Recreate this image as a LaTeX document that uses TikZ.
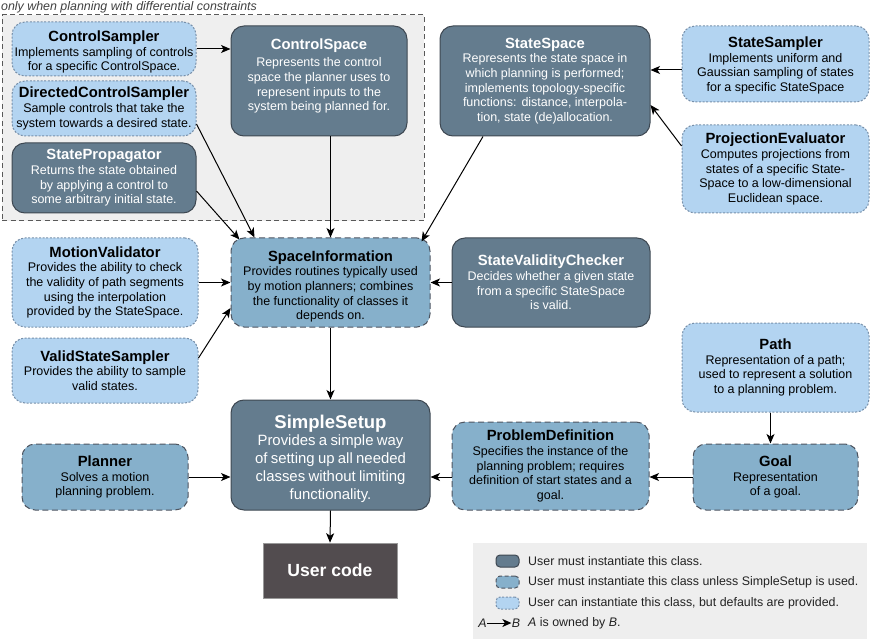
\documentclass[tikz,border=0pt]{standalone}
\usepackage{fontspec}
\setmainfont{Liberation Sans}
\usetikzlibrary{arrows.meta}

\definecolor{dkfill}{HTML}{647C8E}
\definecolor{dkline}{HTML}{3E4852}
\definecolor{mdfill}{HTML}{86B0CB}
\definecolor{mdline}{HTML}{4E5560}
\definecolor{ltfill}{HTML}{B3D4F1}
\definecolor{ltline}{HTML}{7890AA}
\definecolor{regionfill}{HTML}{EFEFEF}
\definecolor{legendfill}{HTML}{EEEEEE}
\definecolor{userfill}{HTML}{524C4F}
\definecolor{bodytext}{HTML}{222222}

% font sizes for class boxes
\newcommand\bodysize{\fontsize{12.5}{14.7}\selectfont}
\newcommand\titlesize{\fontsize{14.8}{16}\selectfont\bfseries}
\newcommand\bigbodysize{\fontsize{14.9}{17.7}\selectfont}
\newcommand\bigtitlesize{\fontsize{18.5}{20}\selectfont\bfseries}
% class box content: title, then description
\newcommand\cls[3][0pt]{{\titlesize #2\par}\vspace{#1}{\bodysize #3\par}}

\tikzset{
  box/.style 2 args={rounded corners=13pt, inner sep=0pt, text width=#1pt,
    minimum height=#2pt, align=center, line width=1pt},
  mustbox/.style={fill=dkfill, draw=dkline, text=white},
  setupbox/.style={fill=mdfill, draw=mdline, text=black,
    dash pattern=on 6pt off 3.5pt},
  defaultbox/.style={fill=ltfill, draw=ltline, text=black,
    dash pattern=on 2pt off 1.6pt},
  own/.style={-{Stealth[length=9.5pt,width=8pt,inset=2.5pt]}, line width=1pt, black},
  legendtext/.style={anchor=west, inner sep=0pt, text=bodytext,
    font=\fontsize{12.4}{14.6}\selectfont},
  icon/.style={rounded corners=4pt, minimum width=23pt, minimum height=12pt,
    inner sep=0pt, line width=1pt},
}

\begin{document}
\begin{tikzpicture}[x=1pt, y=-1pt]
\useasboundingbox (0,0) rectangle (870,639);

% region of classes used only with differential constraints
\node[draw=black!65, fill=regionfill, line width=1pt, dash pattern=on 5pt off 3.5pt,
  minimum width=422pt, minimum height=206pt, inner sep=0pt] (diff) at (213,118) {};
\node[anchor=west, inner sep=0pt, text=black!75,
  font=\fontsize{12.4}{14}\selectfont\itshape] (difflabel) at (1,7)
  {only when planning with differential constraints};

% classes for differential constraints
\node[box={184}{54}, defaultbox] (CS) at (104,49)
  {\cls{ControlSampler}{Implements sampling of controls\\for a specific ControlSpace.}\vspace{-6pt}};
\node[box={184}{55}, defaultbox] (DCS) at (104,108.5)
  {\cls{DirectedControlSampler}{Sample controls that take the\\system towards a desired state.}};
\node[box={184}{70}, mustbox] (SP) at (104,178)
  {\cls{StatePropagator}{Returns the state obtained\\by applying a control to\\some arbitrary initial state.}};
\node[box={176}{110}, mustbox] (CSp) at (319,81)
  {\cls[3pt]{ControlSpace}{Represents the control\\space the planner uses to\\represent inputs to the\\system being planned for.}\vspace{10pt}};

% state space and its helpers
\node[box={210}{110}, mustbox] (SS) at (545,81)
  {\cls{StateSpace}{Represents the state space in\\which planning is performed;\\implements topology-specific\\functions: distance, interpola-\\tion, state (de)allocation.}};
\node[box={187}{76}, defaultbox] (SSam) at (775.5,64)
  {\cls{StateSampler}{Implements uniform and\\Gaussian sampling of states\\for a specific StateSpace}\vspace{-3pt}};
\node[box={187}{88}, defaultbox] (PE) at (775.5,169)
  {\cls{ProjectionEvaluator}{Computes projections from\\states of a specific State-\\Space to a low-dimensional\\Euclidean space.}};

% space information and its helpers
\node[box={199}{89}, setupbox] (SI) at (330.5,282.5)
  {\cls{SpaceInformation}{Provides routines typically used\\by motion planners; combines\\the functionality of classes it\\depends on.}\vspace{-8pt}};
\node[box={186}{89}, defaultbox] (MV) at (105,282.5)
  {\cls{MotionValidator}{Provides the ability to check\\the validity of path segments\\using the interpolation\\provided by the StateSpace.}};
\node[box={186}{65}, defaultbox] (VSS) at (105,370.5)
  {\cls{ValidStateSampler}{Provides the ability to sample\\valid states.}};
\node[box={198}{89}, mustbox] (SVC) at (551,282.5)
  {\cls{StateValidityChecker}{Decides whether a given state\\from a specific StateSpace\\is valid.}};
\node[box={187}{89}, defaultbox] (Path) at (775.5,367.5)
  {\cls{Path}{Representation of a path;\\used to represent a solution\\to a planning problem.}};

% setup level
\node[box={199}{110}, mustbox] (Setup) at (330.5,455)
  {{\bigtitlesize SimpleSetup\par}{\bigbodysize Provides a simple way\\of setting up all needed\\classes without limiting\\functionality.\par}\vspace{-7pt}};
\node[box={166}{66}, setupbox] (Planner) at (105,477)
  {\cls{Planner}{Solves a motion\\planning problem.}};
\node[box={197}{88}, setupbox] (PD) at (550.5,466)
  {\cls{ProblemDefinition}{Specifies the instance of the\\planning problem; requires\\definition of start states and a\\goal.}};
\node[box={165}{66}, setupbox] (Goal) at (775.5,477)
  {\cls{Goal}{Representation\\of a goal.}};
\node[fill=userfill, draw=black!40, line width=0.6pt, minimum width=134pt, minimum height=55pt,
  inner sep=0pt, text=white, font=\fontsize{17.6}{20}\selectfont\bfseries] (UC) at (330,570.5) {User code};

% ownership connectors
\draw[own] (CS.east) -- (CS.east -| CSp.west);
\draw[own] ([yshift=-15.5pt]DCS.east) -- ([xshift=24pt]SI.north west);
\draw[own] ([yshift=-13pt]SP.east) -- ([xshift=9pt,yshift=-2pt]SI.north west);
\draw[own] (CSp.south -| SI.north) -- (SI.north);
\draw[own] ([xshift=-62pt]SS.south) -- ([xshift=-9pt,yshift=-4pt]SI.north east);
\draw[own] ([yshift=-6pt]SSam.west) -- ([yshift=11pt]SS.east);
\draw[own] ([yshift=23pt]PE.west) -- ([yshift=-24pt]SS.east);
\draw[own] (MV.east) -- (SI.west);
\draw[own] ([yshift=12.5pt]VSS.east) -- ([yshift=-25.5pt]SI.west);
\draw[own] (SVC.west) -- (SI.east);
\draw[own] (SI.south) -- (Setup.north);
\draw[own] (Planner.east) -- (Planner.east -| Setup.west);
\draw[own] (PD.west |- Goal.west) -- (Setup.east |- Goal.west);
\draw[own] (Goal.west) -- (PD.east |- Goal.west);
\draw[own] ([xshift=-5pt]Path.south) -- ([xshift=-5pt]Goal.north);
\draw[own] (Setup.south) -- (UC.north);

% legend
\node[fill=legendfill, minimum width=394pt, minimum height=96pt, inner sep=0pt] (legend) at (670,591) {};
\node[icon, mustbox] (i1) at (507.5,561) {};
\node[icon, fill=mdfill, draw=mdline, dash pattern=on 4pt off 2.5pt] (i2) at (507.5,582) {};
\node[icon, defaultbox] (i3) at (507.5,603) {};
\node[legendtext] (t1) at (528,561) {User must instantiate this class.};
\node[legendtext] (t2) at (528,582) {User must instantiate this class unless SimpleSetup is used.};
\node[legendtext] (t3) at (528,603) {User can instantiate this class, but defaults are provided.};
\node[legendtext] (t4) at (528,623) {\textit{A} is owned by \textit{B}.};
\node[inner sep=0pt, text=bodytext, font=\fontsize{12.4}{14.6}\selectfont\itshape] (la) at (482.5,623) {A};
\node[inner sep=0pt, text=bodytext, font=\fontsize{12.4}{14.6}\selectfont\itshape] (lb) at (516,623) {B};
\draw[line width=1pt, -{Stealth[length=9pt,width=8pt,inset=2.5pt]}] ([xshift=0.3pt]la.east) -- ([xshift=-0.3pt]lb.west);

\end{tikzpicture}
\end{document}
